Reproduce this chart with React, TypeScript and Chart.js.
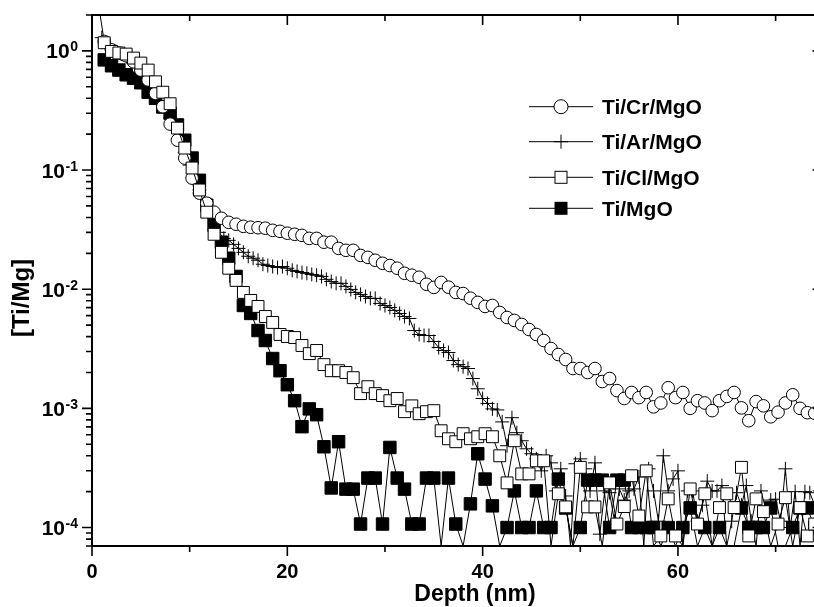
import React, { useEffect, useRef } from 'react';
import { Chart, registerables } from 'chart.js';

Chart.register(...registerables);

// ---------------- data ----------------
const depthA = [
  0.5, 1.25, 2, 2.75, 3.5, 4.25, 5, 5.75, 6.5, 7.25,
  8, 8.75, 9.5, 10.25, 11, 11.75, 12.5, 13.25, 14, 14.75,
  15.5, 16.25, 17, 17.75, 18.5, 19.25, 20, 20.75, 21.5, 22.25,
  23, 23.75, 24.5, 25.25, 26, 26.75, 27.5, 28.25, 29, 29.75,
  30.5, 31.25, 32, 32.75, 33.5, 34.25, 35, 35.75, 36.5, 37.25,
  38, 38.75, 39.5, 40.25, 41, 41.75, 42.5, 43.25, 44, 44.75,
  45.5, 46.25, 47, 47.75, 48.5, 49.25, 50, 50.75, 51.5, 52.25,
  53, 53.75, 54.5, 55.25, 56, 56.75, 57.5, 58.25, 59, 59.75,
  60.5, 61.25, 62, 62.75, 63.5, 64.25, 65, 65.75, 66.5, 67.25,
  68, 68.75, 69.5, 70.25, 71, 71.75, 72.5, 73.25, 74,
];

const depthB = [
  0.5, 1, 1.5, 2, 2.5, 3, 3.5, 4, 4.5, 5,
  5.5, 6, 6.5, 7, 7.5, 8, 8.5, 9, 9.5, 10,
  10.5, 11, 11.5, 12, 12.5, 13, 13.5, 14, 14.5, 15,
  15.5, 16, 16.5, 17, 17.5, 18, 18.5, 19, 19.5, 20,
  20.5, 21, 21.5, 22, 22.5, 23, 23.5, 24, 24.5, 25,
  25.5, 26, 26.5, 27, 27.5, 28, 28.5, 29, 29.5, 30,
  30.5, 31, 31.5, 32, 32.5, 33, 33.5, 34, 34.5, 35,
  35.5, 36, 36.5, 37, 37.5, 38, 38.5, 39, 39.5, 40,
  40.5, 41, 41.5, 42, 42.5, 43, 43.5, 44, 44.5, 45,
  45.5, 46, 46.5, 47, 47.5, 48, 48.5, 49, 49.5, 50,
  50.5, 51, 51.5, 52, 52.5, 53, 53.5, 54, 54.5, 55,
  55.5, 56, 56.5, 57, 57.5, 58, 58.5, 59, 59.5, 60,
  60.5, 61, 61.5, 62, 62.5, 63, 63.5, 64, 64.5, 65,
  65.5, 66, 66.5, 67, 67.5, 68, 68.5, 69, 69.5, 70,
  70.5, 71, 71.5, 72, 72.5, 73, 73.5, 74, 74.5,
];

// Ti/Cr/MgO (open circles), on depthA
const tiCrMgO = [
  3.0, 1.2, 1.02, 0.96, 0.91, 0.81, 0.69, 0.57, 0.44, 0.34,
  0.243, 0.178, 0.126, 0.0855, 0.064, 0.0527, 0.0443, 0.0394, 0.0364, 0.0351,
  0.0337, 0.0331, 0.0328, 0.0325, 0.0312, 0.0306, 0.0295, 0.0289, 0.0283, 0.0267,
  0.0267, 0.0248, 0.0248, 0.022, 0.0212, 0.0212, 0.0192, 0.0185, 0.0175, 0.0165,
  0.0158, 0.015, 0.0136, 0.0131, 0.0126, 0.011, 0.01035, 0.0114, 0.0104, 0.0094,
  0.0092, 0.0084, 0.00775, 0.00717, 0.0073, 0.00638, 0.00579, 0.00547, 0.00506, 0.00459,
  0.00417, 0.00371, 0.00318, 0.00283, 0.00257, 0.00216, 0.00216, 0.002, 0.00216, 0.00168,
  0.00178, 0.00141, 0.00121, 0.00136, 0.00123, 0.00136, 0.00103, 0.00111, 0.00149, 0.00123,
  0.00136, 0.001, 0.00116, 0.00111, 0.000957, 0.00116, 0.00126, 0.00136, 0.00101, 0.000788,
  0.00114, 0.00105, 0.00085, 0.00093, 0.00111, 0.0013, 0.001, 0.00092, 0.00091,
];

// Ti/Ar/MgO (plus), on depthB
const tiArMgO = [
  null, 1.29, 1.12, 1.02, 0.98, 0.94, 0.89, 0.87, 0.81, 0.75,
  0.67, 0.59, 0.49, 0.41, 0.345, 0.273, 0.225, 0.186, 0.141, 0.11,
  0.0855, 0.068, 0.058, 0.046, 0.0394, 0.03, 0.0267, 0.0257, 0.0238, 0.022,
  0.0204, 0.0189, 0.0182, 0.0175, 0.0162, 0.0158, 0.0155, 0.0152, 0.0155, 0.015,
  0.0144, 0.0141, 0.0138, 0.0136, 0.0133, 0.0131, 0.0128, 0.0121, 0.0116, 0.0112,
  0.0112, 0.01056, 0.00996, 0.0094, 0.00904, 0.00869, 0.00837, 0.00837, 0.0076, 0.0073,
  0.00703, 0.00664, 0.00626, 0.0059, 0.00568, 0.0045, 0.00417, 0.00409, 0.00409, 0.00364,
  0.00324, 0.00306, 0.00294, 0.00252, 0.00233, 0.00224, 0.00216, 0.00178, 0.00146, 0.00121,
  0.0011, 0.00099, 0.00097, 0.00077, 0.000486, 0.000835, 0.000625, 0.000535, 0.000458, 0.000416,
  0.000377, 0.000299, 0.0004, 0.000349, 0.000203, 0.000311, 0.000184, 0, 0.000343, 0.000377,
  0.000311, 0.000203, 0.000349, 0.000088, 0.000203, 0.000196, 0.000113, 0.000211, 0.00017, 0.000203,
  0.000211, 0.000266, 0, 0.000311, 0.000203, 0.000113, 0.0004, 0.000203, 0.000256, 0.000299,
  0, 0.000203, 0.000203, 0.000113, 0.000154, 0.000245, 0.000203, 0.000203, 0.000225, 0,
  0.000113, 0.000196, 0.000154, 0.000225, 0.000113, 0, 0.000203, 0.000142, 0.00017, 0.000173,
  0.000113, 0.000311, 0.0001, 0.0002, 0, 0.0002, 0.000196, 0.000154, 0.000203,
];

// Ti/Cl/MgO (open squares), on depthA
const tiClMgO = [
  null, 1.17, 0.99, 0.96, 0.94, 0.87, 0.79, 0.69, 0.55, 0.45,
  0.36, 0.225, 0.153, 0.104, 0.068, 0.0443, 0.0289, 0.0204, 0.015, 0.01186,
  0.0094, 0.00805, 0.00717, 0.0059, 0.00526, 0.00417, 0.00401, 0.00393, 0.00337, 0.00288,
  0.00306, 0.00233, 0.00207, 0.00207, 0.002, 0.00181, 0.00133, 0.00152, 0.00133, 0.00128,
  0.00116, 0.00121, 0.000938, 0.00105, 0.000902, 0.000938, 0.000957, 0.000649, 0.000556, 0.000525,
  0.000613, 0.000556, 0.000578, 0.000613, 0.000578, 0.0004, 0.000237, 0.000535, 0.000282, 0.000282,
  0.000363, 0.000363, 0, 0.000192, 0.000149, 0, 0.00032, 0.000149, 0.000149, 0,
  0.000237, 0.000107, 0.00015, 0.000272, 0.000125, 0.000299, 0, 0.000085, 0.000174, 0.000085,
  0, 0.000211, 0.000107, 0.000192, 0, 0.000147, 0.000192, 0.000147, 0.00032, 0.000085,
  0.000174, 0.000136, 0, 0.000107, 0.000178, 0, 0.000147, 0.000085, 0.000107,
];

// Ti/MgO (filled squares), on depthA
const tiMgO = [
  null, 0.84, 0.75, 0.69, 0.63, 0.59, 0.54, 0.45, 0.4, 0.338,
  0.3, 0.239, 0.178, 0.126, 0.082, 0.0507, 0.0344, 0.0248, 0.0182, 0.0128,
  0.0073, 0.00626, 0.0045, 0.00371, 0.00262, 0.00207, 0.00158, 0.00116, 0.000702, 0.00099,
  0.000885, 0.000476, 0.000215, 0.000525, 0.00021, 0.00021, 0.000107, 0.00026, 0.00026, 0.000107,
  0.00047, 0.00026, 0.00021, 0.000107, 0.000107, 0.00026, 0.00026, 0, 0.00026, 0.000107,
  0, 0.000158, 0.000416, 0.000255, 0.000152, 0, 0.0001, 0.000203, 0.0001, 0.0001,
  0.000203, 0.0001, 0.0001, 0.000255, 0.000146, 0, 0.0001, 0.00025, 0.00025, 0.00025,
  0.0001, 0.00025, 0.00025, 0.0001, 0.0001, 0.0001, 0.0001, 0, 0.0001, 0,
  0.0001, 0.000146, 0, 0.0001, 0, 0.0001, 0, 0, 0.000146, 0.0001,
  0.0001, 0.0001, 0.000146, 0, 0, 0.0001, 0.000146, 0.000146, 0.0001,
];

const seriesLabels = ['Ti/Cr/MgO', 'Ti/Ar/MgO', 'Ti/Cl/MgO', 'Ti/MgO'];
const xMajorTicks = [0, 20, 40, 60];
const xMinorTicks = [10, 30, 50, 70];
const yDecadeExponents = [0, -1, -2, -3, -4];
const xTitle = 'Depth (nm)';
const yTitle = '[Ti/Mg]';

const X_MIN = 0;
const X_MAX = 74.8;
const Y_MIN = 7e-5;
const Y_MAX = 2;

const FONT = '"Liberation Sans", Arial, Helvetica, sans-serif';
const CANVAS_W = 840;
const CANVAS_H = 607;

function toPoints(depth: number[], values: (number | null)[]) {
  return depth.map((x, i) => {
    const v = values[i];
    return { x, y: v === null ? null : v === 0 ? Y_MIN : v };
  });
}

function radiusFor(values: (number | null)[], r: number) {
  return (ctx: any) => (values[ctx.dataIndex] === 0 ? 0 : r);
}

type MarkerKind = 'circle' | 'cross' | 'openRect' | 'fillRect';

function drawMarker(ctx: CanvasRenderingContext2D, kind: MarkerKind, x: number, y: number) {
  ctx.save();
  ctx.lineWidth = 1;
  ctx.strokeStyle = '#000';
  if (kind === 'circle') {
    ctx.beginPath();
    ctx.arc(x, y, 7, 0, Math.PI * 2);
    ctx.fillStyle = '#fff';
    ctx.fill();
    ctx.stroke();
  } else if (kind === 'cross') {
    ctx.beginPath();
    ctx.moveTo(x, y - 7);
    ctx.lineTo(x, y + 7);
    ctx.moveTo(x - 7, y);
    ctx.lineTo(x + 7, y);
    ctx.stroke();
  } else if (kind === 'openRect') {
    ctx.fillStyle = '#fff';
    ctx.fillRect(x - 6, y - 6, 12, 12);
    ctx.strokeRect(x - 6, y - 6, 12, 12);
  } else {
    ctx.fillStyle = '#000';
    ctx.fillRect(x - 6.5, y - 6.5, 13, 13);
  }
  ctx.restore();
}

const framePlugin = {
  id: 'framePlugin',
  beforeDraw(chart: any) {
    const ctx = chart.ctx;
    ctx.save();
    ctx.fillStyle = '#fff';
    ctx.fillRect(0, 0, chart.width, chart.height);
    ctx.restore();
  },
  afterDraw(chart: any) {
    const ctx: CanvasRenderingContext2D = chart.ctx;
    const xs = chart.scales.x;
    const ys = chart.scales.y;
    const { left, right, top, bottom } = chart.chartArea;
    ctx.save();
    ctx.strokeStyle = '#000';
    ctx.fillStyle = '#000';

    // frame
    ctx.lineWidth = 2;
    ctx.strokeRect(left, top, right - left, bottom - top);

    // x ticks
    ctx.lineWidth = 1.6;
    const xTicks = [...xMajorTicks.map((v) => [v, 10]), ...xMinorTicks.map((v) => [v, 6])];
    for (const [v, len] of xTicks) {
      const px = xs.getPixelForValue(v);
      ctx.beginPath();
      ctx.moveTo(px, bottom);
      ctx.lineTo(px, bottom + len);
      ctx.moveTo(px, top);
      ctx.lineTo(px, top + len);
      ctx.stroke();
    }

    // y ticks
    for (let e = -5; e <= 0; e++) {
      for (let m = 1; m <= 9; m++) {
        const v = m * Math.pow(10, e);
        if (v < Y_MIN * 0.999 || v > Y_MAX * 1.001) continue;
        const py = ys.getPixelForValue(v);
        const major = m === 1;
        const len = major ? 10 : 6;
        ctx.beginPath();
        ctx.moveTo(left - len, py);
        ctx.lineTo(left + 1, py);
        ctx.moveTo(right, py);
        ctx.lineTo(right - len, py);
        ctx.stroke();
      }
    }

    // x tick labels
    ctx.font = `bold 20px ${FONT}`;
    ctx.textAlign = 'center';
    ctx.textBaseline = 'alphabetic';
    for (const v of xMajorTicks) {
      ctx.fillText(String(v), xs.getPixelForValue(v), bottom + 32);
    }

    // y tick labels: 10 with superscript exponent
    for (const e of yDecadeExponents) {
      const py = ys.getPixelForValue(Math.pow(10, e));
      const exp = String(e);
      ctx.font = `bold 14px ${FONT}`;
      ctx.textAlign = 'right';
      const w = ctx.measureText(exp).width;
      ctx.fillText(exp, 78, py + 0.5);
      ctx.font = `bold 21px ${FONT}`;
      ctx.fillText('10', 78 - w - 0.5, py + 7.5);
    }

    // axis titles
    ctx.font = `bold 23px ${FONT}`;
    ctx.textAlign = 'center';
    ctx.fillText(xTitle, 475, 601);
    ctx.save();
    ctx.translate(29, 298);
    ctx.rotate(-Math.PI / 2);
    ctx.font = `bold 24px ${FONT}`;
    ctx.fillText(yTitle, 0, 0);
    ctx.restore();

    // legend
    const kinds: MarkerKind[] = ['circle', 'cross', 'openRect', 'fillRect'];
    const rowY = [106.7, 141.7, 177.3, 208.3];
    seriesLabels.forEach((label, i) => {
      const y = rowY[i];
      ctx.lineWidth = 1;
      ctx.beginPath();
      ctx.moveTo(529, y);
      ctx.lineTo(593, y);
      ctx.stroke();
      drawMarker(ctx, kinds[i], 561, y);
      ctx.fillStyle = '#000';
      ctx.font = `bold 21px ${FONT}`;
      ctx.textAlign = 'left';
      ctx.fillText(label, 602, y + 7.5);
    });

    ctx.restore();
  },
};

export default function App() {
  const ref = useRef<HTMLCanvasElement | null>(null);

  useEffect(() => {
    const canvas = ref.current;
    if (!canvas) return;
    const common = {
      showLine: true,
      borderColor: '#000',
      borderWidth: 1,
      tension: 0,
      clip: 0,
      pointBorderColor: '#000',
      pointBorderWidth: 1,
      spanGaps: false,
    };
    const chart = new Chart(canvas, {
      type: 'scatter',
      data: {
        datasets: [
          {
            ...common,
            label: seriesLabels[2],
            data: toPoints(depthA, tiClMgO),
            pointStyle: 'rect',
            pointRadius: radiusFor(tiClMgO, 8.4),
            pointBackgroundColor: '#fff',
            order: 0,
          },
          {
            ...common,
            label: seriesLabels[0],
            data: toPoints(depthA, tiCrMgO),
            pointStyle: 'circle',
            pointRadius: radiusFor(tiCrMgO, 6.3),
            pointBackgroundColor: '#fff',
            order: 1,
          },
          {
            ...common,
            label: seriesLabels[1],
            data: toPoints(depthB, tiArMgO),
            pointStyle: 'cross',
            pointRadius: radiusFor(tiArMgO, 7),
            pointBackgroundColor: '#000',
            order: 2,
          },
          {
            ...common,
            label: seriesLabels[3],
            data: toPoints(depthA, tiMgO),
            pointStyle: 'rect',
            pointRadius: radiusFor(tiMgO, 8.8),
            pointBackgroundColor: '#000',
            order: 3,
          },
        ] as any,
      },
      options: {
        animation: false,
        responsive: false,
        devicePixelRatio: 1,
        events: [],
        layout: {
          padding: { left: 92, top: 15, right: CANVAS_W - 822.5, bottom: CANVAS_H - 546 },
        },
        scales: {
          x: { type: 'linear', min: X_MIN, max: X_MAX, display: false },
          y: { type: 'logarithmic', min: Y_MIN, max: Y_MAX, display: false },
        },
        plugins: {
          legend: { display: false },
          tooltip: { enabled: false },
          title: { display: false },
        },
      } as any,
      plugins: [framePlugin],
    });
    return () => chart.destroy();
  }, []);

  return (
    <div
      style={{
        position: 'fixed',
        left: 0,
        top: 0,
        width: 814,
        height: 607,
        overflow: 'hidden',
        background: '#fff',
      }}
    >
      <canvas
        ref={ref}
        width={CANVAS_W}
        height={CANVAS_H}
        style={{ display: 'block', width: CANVAS_W, height: CANVAS_H }}
      />
    </div>
  );
}
